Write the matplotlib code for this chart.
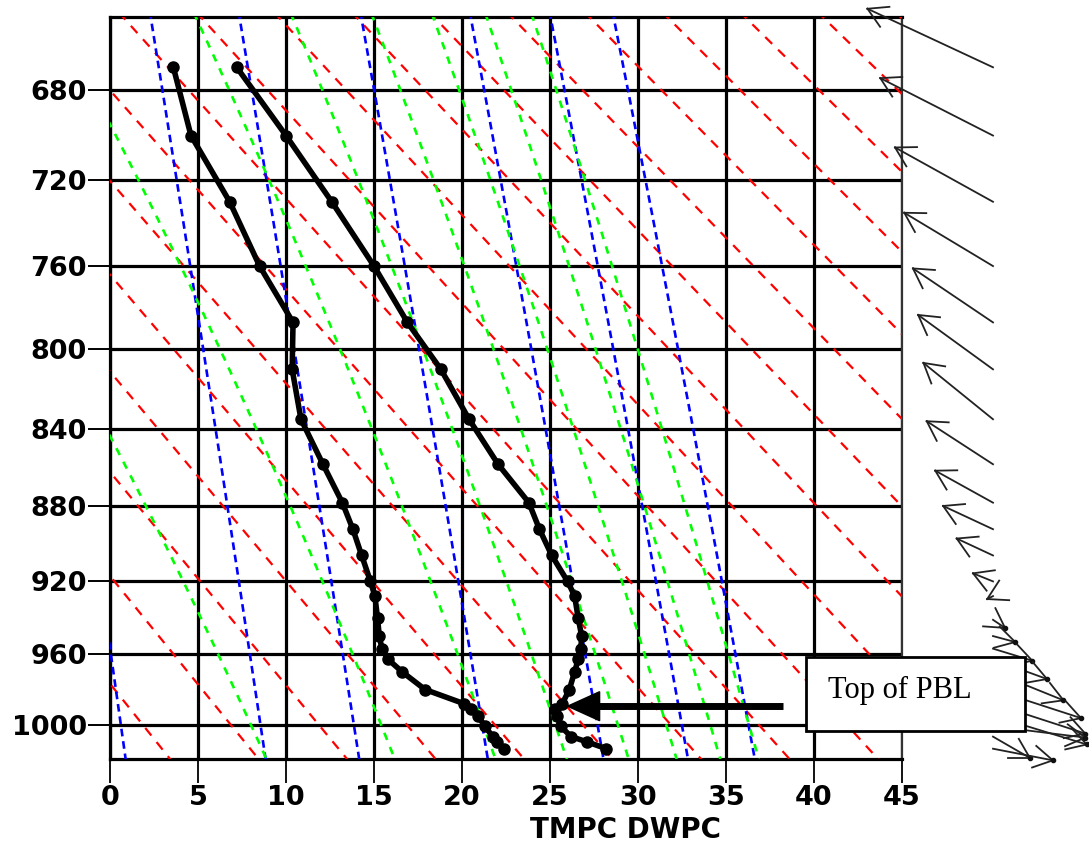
import numpy as np
import matplotlib
matplotlib.use("Agg")
import matplotlib.pyplot as plt
from matplotlib.patches import Rectangle, Polygon

plt.rcParams['lines.scale_dashes'] = False

# ---------------- sounding data ----------------
pres = [670, 700, 730, 760, 787, 810, 835, 858, 878, 892, 906, 920, 928,
        940, 950, 957, 963, 970, 980, 988, 991, 995, 1001, 1007, 1010, 1014]
tmpc = [7.2, 10.0, 12.6, 15.0, 16.9, 18.8, 20.4, 22.05, 23.8, 24.4, 25.1, 26.0, 26.4,
        26.6, 26.8, 26.75, 26.6, 26.4, 26.1, 25.7, 25.3, 25.4, 25.6, 26.2, 27.1, 28.2]
dwpc = [3.6, 4.6, 6.8, 8.5, 10.4, 10.35, 10.85, 12.1, 13.2, 13.8, 14.3, 14.8, 15.05,
        15.2, 15.3, 15.45, 15.8, 16.6, 17.9, 20.1, 20.5, 20.9, 21.3, 21.75, 22.0, 22.4]

# ---------------- wind data (direction from, deg; speed, kt) ----------------
wind_pres = [670, 700, 730, 760, 787, 810, 835, 858, 878, 892, 906, 920,
             928, 941, 950, 957, 963, 970, 980, 988, 995, 1001, 1007, 1014]
wind_dir = [115, 117, 119, 121, 124, 126, 129, 123, 119, 115, 115, 112,
            63, 304, 285, 287, 290, 292, 288, 288, 287, 277, 300, 281]
wind_spd = [27.7, 25.3, 22.4, 20.7, 19.3, 18.5, 17.9, 15.8, 13.2, 11.0, 8.0, 4.3,
            1.3, 2.9, 4.6, 8.2, 11.5, 15.2, 18.5, 19.4, 19.6, 18.6, 8.5, 12.2]

# ---------------- background line parameters ----------------
theta_k = list(range(260, 370, 5))          # dry adiabats (K)
mixr_gkg = [4, 7, 10, 16, 24, 32, 40]       # mixing ratio lines (g/kg)
thetaw_c = [8.0, 15.4, 21.2, 25.3, 28.85, 31.6, 34.1, 36.3]  # moist adiabats (C at 1000 hPa)

xticks = [0, 5, 10, 15, 20, 25, 30, 35, 40, 45]
yticks = [680, 720, 760, 800, 840, 880, 920, 960, 1000]
xlabel = "TMPC DWPC"
note = "Top of PBL"
note_target = (26.0, 989.5)

# ---------------- figure ----------------
W, H = 1089, 846
fig = plt.figure(figsize=(W / 100, H / 100), dpi=100)
fig.patch.set_facecolor("white")
ax = fig.add_axes([110 / W, 1 - 759 / H, 792 / W, 742 / H])

KAP = 0.286
def fwd(p):
    return np.power(np.clip(p, 1e-6, None), KAP)
def inv(u):
    return np.power(np.clip(u, 1e-6, None), 1.0 / KAP)

ax.set_yscale("function", functions=(fwd, inv))
ax.set_xlim(0, 45)
ax.set_ylim(1020, 648.5)

pp = np.linspace(640, 1030, 400)

# dry adiabats
for th in theta_k:
    T = th * (pp / 1000.0) ** KAP - 273.15
    ax.plot(T, pp, color="#ff0000", lw=1.6, ls=(0, (7, 6)), zorder=3)

# mixing ratio lines
for w in mixr_gkg:
    e = w * pp / (622.0 + w)
    le = np.log(e / 6.112)
    Td = 243.5 * le / (17.67 - le)
    ax.plot(Td, pp, color="#0000ff", lw=1.9, ls=(0, (5.5, 3.5)), zorder=3)

# moist adiabats
def moist_profile(tw):
    Rd, cp, Lv, eps = 287.04, 1005.7, 2.501e6, 0.622
    def dTdp(T, p):
        Tc = T - 273.15
        es = 6.112 * np.exp(17.67 * Tc / (Tc + 243.5))
        rs = eps * es / (p - es)
        return ((Rd * T + Lv * rs) / p) / (cp + Lv * Lv * rs * eps / (Rd * T * T))
    out = {}
    for p_end in (640.0, 1030.0):
        T = tw + 273.15
        p = 1000.0
        n = 400
        h = (p_end - 1000.0) / n
        ps, Ts = [p], [T]
        for _ in range(n):
            k1 = dTdp(T, p)
            k2 = dTdp(T + h * k1 / 2, p + h / 2)
            k3 = dTdp(T + h * k2 / 2, p + h / 2)
            k4 = dTdp(T + h * k3, p + h)
            T = T + h * (k1 + 2 * k2 + 2 * k3 + k4) / 6
            p = p + h
            ps.append(p); Ts.append(T)
        out[p_end] = (np.array(ps), np.array(Ts) - 273.15)
    pa = np.concatenate([out[640.0][0][::-1], out[1030.0][0][1:]])
    ta = np.concatenate([out[640.0][1][::-1], out[1030.0][1][1:]])
    return pa, ta

for tw in thetaw_c:
    pa, ta = moist_profile(tw)
    ax.plot(ta, pa, color="#00ff00", lw=1.9, ls=(0, (5.5, 5.5)), zorder=3)

# sounding
ax.plot(tmpc, pres, color="black", lw=4, marker="o", ms=8, zorder=6, solid_capstyle="round")
ax.plot(dwpc, pres, color="black", lw=4, marker="o", ms=8, zorder=6, solid_capstyle="round")

# grid / axes
ax.set_xticks(xticks)
ax.set_yticks(yticks)
ax.set_xticklabels([str(v) for v in xticks])
ax.set_yticklabels([str(v) for v in yticks])
ax.minorticks_off()
ax.grid(True, color="black", lw=2.3)
for s in ("left", "bottom", "top"):
    ax.spines[s].set_linewidth(2.3)
    ax.spines[s].set_color("black")
ax.spines["right"].set_linewidth(1.6)
ax.spines["right"].set_color("#333333")
ax.tick_params(axis="x", direction="out", length=17, width=1.3, pad=1.5, colors="black")
ax.tick_params(axis="y", direction="out", length=16, width=1.4, pad=0.5, colors="black")
for lab in ax.get_xticklabels() + ax.get_yticklabels():
    lab.set_fontfamily("DejaVu Sans")
    lab.set_fontweight("bold")
    lab.set_fontsize(19.5)

fig.text(626 / W, 1 - 815.5 / H, xlabel, ha="center", va="top",
         family="DejaVu Sans", weight="bold", fontsize=20)

# ---------------- overlay (pixel coordinates) ----------------
ov = fig.add_axes([0, 0, 1, 1], zorder=10)
ov.set_xlim(0, W)
ov.set_ylim(H, 0)
ov.axis("off")
ov.patch.set_alpha(0)

def p_to_px(p):
    return H - ax.transData.transform([[0, p]])[0, 1]

def t_to_px(t):
    return ax.transData.transform([[t, 1000]])[0, 0]

# wind arrows
SCALE = 5.0     # pixels per knot
TAIL_X = 993
HEAD = 22
for p, d, s in zip(wind_pres, wind_dir, wind_spd):
    y0 = p_to_px(p)
    to = np.deg2rad(d + 180.0)
    L = s * SCALE
    dx = L * np.sin(to)
    dy = -L * np.cos(to)
    x1, y1 = TAIL_X + dx, y0 + dy
    ov.plot([TAIL_X, x1], [y0, y1], color="#222222", lw=1.3, zorder=2)
    back = np.arctan2(-dy, -dx)
    for a in (back - np.deg2rad(30), back + np.deg2rad(30)):
        ov.plot([x1, x1 + HEAD * np.cos(a)], [y1, y1 + HEAD * np.sin(a)],
                color="#222222", lw=1.3, zorder=2)
    if p > 940:
        ov.plot([x1], [y1], "o", color="#111111", ms=3, zorder=2)

# annotation box and arrow
tx = t_to_px(note_target[0])
ty = p_to_px(note_target[1])
ov.plot([tx + 30, 783], [ty, ty], color="black", lw=5, solid_capstyle="butt", zorder=4)
ov.add_patch(Polygon([[tx, ty], [tx + 32, ty - 14.5], [tx + 32, ty + 14.5]],
                     closed=True, color="black", zorder=4))
ov.add_patch(Rectangle((806, 657), 219, 74, facecolor="white", edgecolor="black",
                       lw=2, zorder=5))
ov.text(900, 690, note, ha="center", va="center", family="Liberation Serif",
        fontsize=22, zorder=6)

fig.savefig("out.png", dpi=100, facecolor="white")
